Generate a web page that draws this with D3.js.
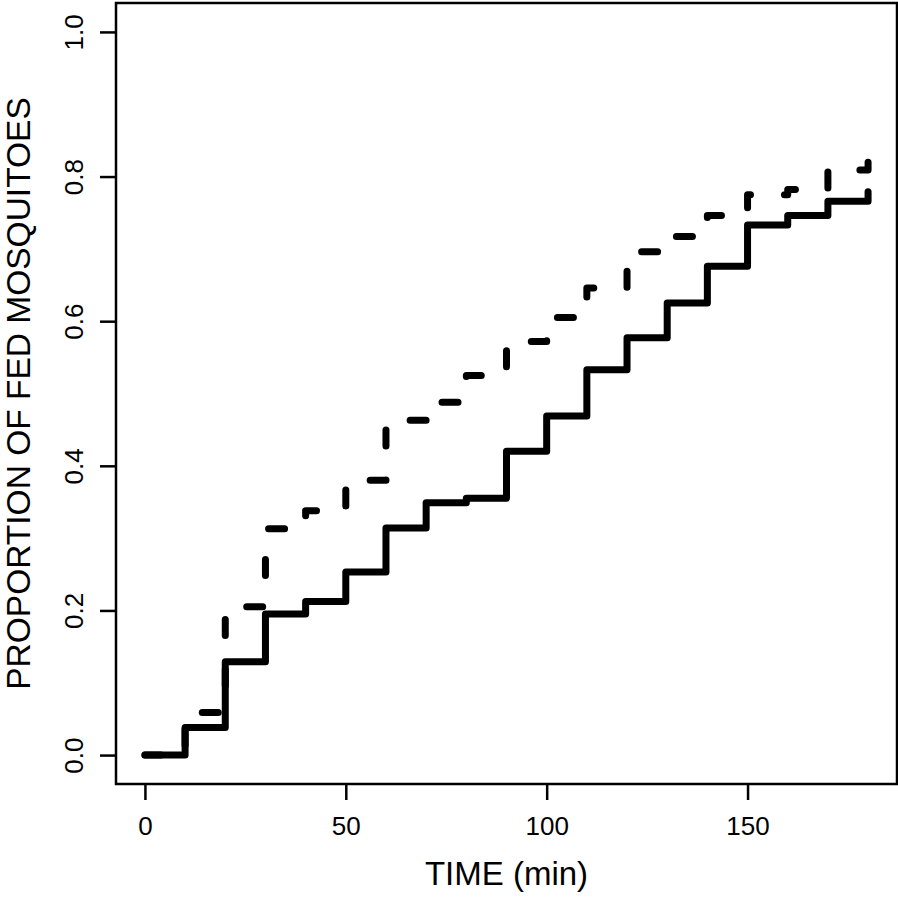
<!DOCTYPE html>
<html>
<head>
<meta charset="utf-8">
<script src="https://cdn.jsdelivr.net/npm/d3@7"></script>
<style>
  html, body { margin: 0; padding: 0; background: #fff; }
  svg { display: block; }
  text { font-family: "Liberation Sans", Arial, Helvetica, sans-serif; fill: #000; }
</style>
</head>
<body>
<svg id="chart" width="898" height="899"></svg>
<script>
// ---- data ----
const times = [0, 10, 20, 30, 40, 50, 60, 70, 80, 90, 100, 110, 120, 130, 140, 150, 160, 170, 180];
const solidSeries = [0, 0.038, 0.129, 0.195, 0.2125, 0.253, 0.314, 0.349, 0.355, 0.42, 0.469, 0.533, 0.577, 0.625, 0.676, 0.733, 0.746, 0.766, 0.779];
const dashedSeries = [0, 0.059, 0.205, 0.313, 0.338, 0.380, 0.463, 0.488, 0.525, 0.572, 0.605, 0.646, 0.696, 0.717, 0.746, 0.775, 0.782, 0.809, 0.821];
const xTicks = [0, 50, 100, 150];
const yTicks = [0.0, 0.2, 0.4, 0.6, 0.8, 1.0];
const xTitle = "TIME (min)";
const yTitle = "PROPORTION OF FED MOSQUITOES";

// ---- layout ----
const svg = d3.select("#chart");
const pL = 116, pR = 897, pT = 3, pB = 784;
const x = d3.scaleLinear().domain([-7.2, 187.2]).range([pL, pR]);
const y = d3.scaleLinear().domain([-0.04, 1.04]).range([pB, pT]);

// box
svg.append("rect")
  .attr("x", pL).attr("y", pT)
  .attr("width", pR - pL).attr("height", pB - pT)
  .attr("fill", "none").attr("stroke", "#000").attr("stroke-width", 2.5);

// x axis
const xAxis = d3.axisBottom(x).tickValues(xTicks).tickSize(16).tickPadding(14)
  .tickFormat(d3.format("d"));
const gx = svg.append("g").attr("transform", `translate(0,${pB})`).call(xAxis);
gx.select(".domain").remove();
gx.selectAll(".tick line").attr("stroke", "#000").attr("stroke-width", 2.5);
gx.selectAll(".tick text").attr("font-size", 26).attr("font-family", "Liberation Sans, Arial, sans-serif")
  .attr("dy", null).attr("y", 51);

// y axis
const yAxis = d3.axisLeft(y).tickValues(yTicks).tickSize(16).tickFormat(d3.format(".1f"));
const gy = svg.append("g").attr("transform", `translate(${pL},0)`).call(yAxis);
gy.select(".domain").remove();
gy.selectAll(".tick line").attr("stroke", "#000").attr("stroke-width", 2.5);
gy.selectAll(".tick text")
  .attr("font-size", 26).attr("font-family", "Liberation Sans, Arial, sans-serif")
  .attr("x", null).attr("dy", null)
  .attr("text-anchor", "middle")
  .attr("transform", "translate(-33,0) rotate(-90)");

// titles
svg.append("text")
  .attr("x", (pL + pR) / 2).attr("y", 885)
  .attr("text-anchor", "middle").attr("font-size", 33)
  .text(xTitle);
svg.append("text")
  .attr("transform", `translate(30,${(pT + pB) / 2}) rotate(-90)`)
  .attr("text-anchor", "middle").attr("font-size", 33.5)
  .text(yTitle);

// lines
const line = d3.line()
  .x((d, i) => x(times[i]))
  .y(d => y(d))
  .curve(d3.curveStepAfter);

svg.append("path")
  .datum(solidSeries)
  .attr("d", line)
  .attr("fill", "none").attr("stroke", "#000")
  .attr("stroke-width", 7).attr("stroke-linecap", "round").attr("stroke-linejoin", "round");

svg.append("path")
  .datum(dashedSeries)
  .attr("d", line)
  .attr("fill", "none").attr("stroke", "#000")
  .attr("stroke-width", 7).attr("stroke-linecap", "round").attr("stroke-linejoin", "round")
  .attr("stroke-dasharray", "16 34");
</script>
</body>
</html>
